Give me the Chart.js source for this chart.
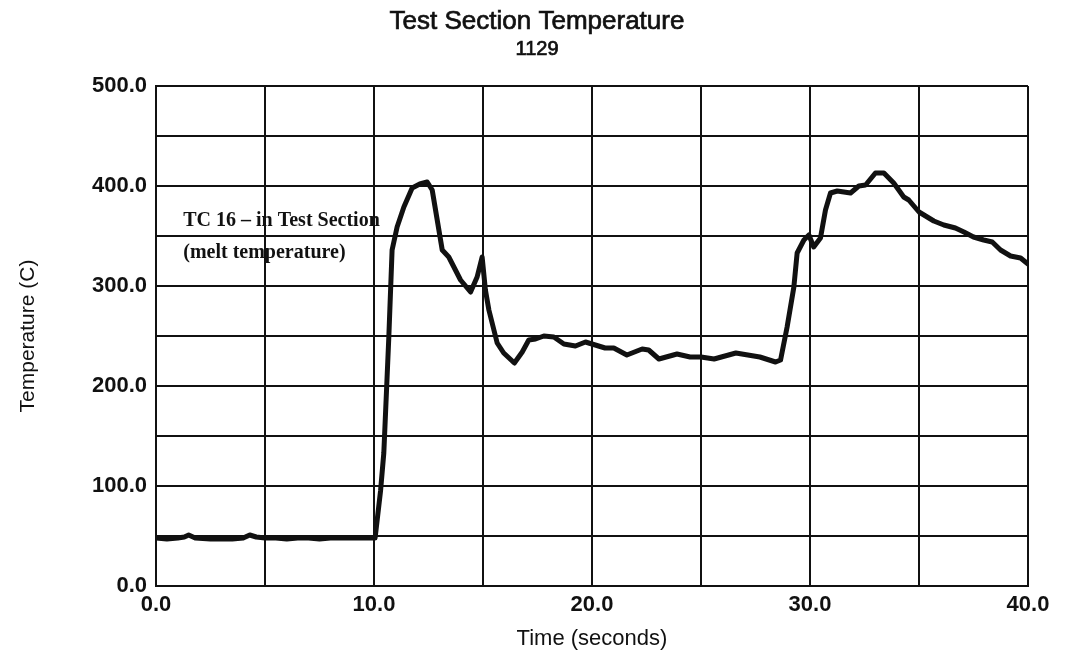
<!DOCTYPE html>
<html>
<head>
<meta charset="utf-8">
<title>Test Section Temperature</title>
<script src="https://cdn.jsdelivr.net/npm/chart.js@4/dist/chart.umd.min.js"></script>
<style>
  html, body { margin: 0; padding: 0; background: #fff; }
  #wrap { width: 1074px; height: 655px; position: relative; }
</style>
</head>
<body>
<div id="wrap"><canvas id="tempChart"></canvas></div>
<script>
// TC 16 readings: time (s) and temperature (C)
const timeSec = [
  0, 0.5, 1, 1.3, 1.5, 1.8, 2.5, 3, 3.5, 4, 4.3, 4.6, 5, 5.5, 6, 6.5, 7, 7.5, 8, 8.5, 9, 9.5, 10.05,
  10.3, 10.45, 10.68, 10.83, 11.06, 11.37, 11.75, 12.1, 12.44, 12.67, 13.13, 13.43, 13.97, 14.43,
  14.73, 14.96, 15.11, 15.27, 15.65, 15.95, 16.44, 16.8, 17.1, 17.41, 17.79, 18.25, 18.71, 19.24,
  19.7, 20.0, 20.6, 21.0, 21.6, 22.3, 22.6, 23.07, 23.9, 24.5, 25.0, 25.6, 26.6, 27.7, 28.42,
  28.65, 28.95, 29.26, 29.41, 29.72, 29.95, 30.17, 30.48, 30.71, 30.94, 31.25, 31.86, 32.24,
  32.55, 33.0, 33.39, 33.84, 34.3, 34.53, 35.0, 35.68, 36.14, 36.67, 37.06, 37.5, 37.97, 38.36,
  38.74, 39.2, 39.66, 40
];
const tempC = [
  48, 47, 48, 49, 51, 48, 47, 47, 47, 48, 51, 49, 48, 48, 47, 48, 48, 47, 48, 48, 48, 48, 48,
  95, 133, 249, 336, 359, 379, 398, 402, 404, 396, 336, 329, 306, 294,
  309, 329, 296, 276, 243, 233, 223, 234, 246, 247, 250, 249, 242, 240,
  244, 242, 238, 238, 231, 237, 236, 227, 232, 229, 229, 227, 233, 229, 224,
  226, 259, 299, 333, 346, 351, 339, 348, 376, 393, 395, 393, 400,
  401, 413, 413, 403, 389, 386, 374, 365, 361, 358, 354, 349, 346, 344,
  336, 330, 328, 322
];

const xTicks = [0, 10, 20, 30, 40];
const yTicks = [0, 100, 200, 300, 400, 500];
const chartTitle = 'Test Section Temperature';
const runId = '1129';
const noteLines = ['TC 16 \u2013 in Test Section', '(melt temperature)'];

const INK = '#111';
const SANS = '"Liberation Sans", Arial, Helvetica, sans-serif';
const SERIF = '"Liberation Serif", "Times New Roman", serif';

// heading is centred on the whole canvas, not on the plot
const headingPlugin = {
  id: 'heading',
  afterDraw(chart) {
    const { ctx, width } = chart;
    ctx.save();
    ctx.fillStyle = INK;
    ctx.strokeStyle = INK;
    ctx.lineWidth = 0.7;
    ctx.textAlign = 'center';
    ctx.textBaseline = 'middle';
    ctx.font = '26px ' + SANS;
    ctx.fillText(chartTitle, width / 2, 22);
    ctx.strokeText(chartTitle, width / 2, 22);
    ctx.font = '20px ' + SANS;
    ctx.fillText(runId, width / 2, 49);
    ctx.strokeText(runId, width / 2, 49);
    ctx.restore();
  }
};

// label sitting inside the plot, under the grid
const notePlugin = {
  id: 'note',
  beforeDraw(chart) {
    const { ctx, scales } = chart;
    const x = scales.x.getPixelForValue(1.25);
    const y1 = scales.y.getPixelForValue(360);
    const y2 = scales.y.getPixelForValue(328);
    ctx.save();
    ctx.fillStyle = INK;
    ctx.font = 'bold 20px ' + SERIF;
    ctx.textBaseline = 'alphabetic';
    ctx.fillText(noteLines[0], x, y1);
    ctx.fillText(noteLines[1], x, y2);
    ctx.restore();
  }
};

const ctx = document.getElementById('tempChart');
new Chart(ctx, {
  type: 'scatter',
  data: {
    datasets: [{
      data: timeSec.map((t, i) => ({ x: t, y: tempC[i] })),
      showLine: true,
      borderColor: INK,
      borderWidth: 5,
      pointRadius: 0,
      tension: 0,
      borderJoinStyle: 'round',
      borderCapStyle: 'round'
    }]
  },
  options: {
    responsive: true,
    maintainAspectRatio: false,
    animation: false,
    layout: { padding: { top: 86, right: 46, bottom: 0, left: 0 } },
    plugins: {
      legend: { display: false },
      tooltip: { enabled: false },
      title: { display: false },
      subtitle: { display: false }
    },
    scales: {
      x: {
        type: 'linear',
        min: 0,
        max: 40,
        afterFit(scale) { scale.height = 69; },
        grid: { color: INK, lineWidth: 2, drawTicks: false },
        border: { color: INK, width: 2 },
        ticks: {
          stepSize: 5,
          padding: 6,
          color: INK,
          font: { family: SANS, size: 22, weight: 'bold' },
          callback: v => xTicks.includes(v) ? v.toFixed(1) : ''
        },
        title: {
          display: true,
          text: 'Time (seconds)',
          color: INK,
          font: { family: SANS, size: 22 },
          padding: { top: 0, bottom: 3 }
        }
      },
      y: {
        min: 0,
        max: 500,
        afterFit(scale) { scale.width = 156; },
        grid: { color: INK, lineWidth: 2, drawTicks: false },
        border: { color: INK, width: 2 },
        ticks: {
          stepSize: 50,
          padding: 9,
          color: INK,
          font: { family: SANS, size: 22, weight: 'bold' },
          callback: v => yTicks.includes(v) ? v.toFixed(1) : ''
        },
        title: {
          display: true,
          text: 'Temperature (C)',
          color: INK,
          font: { family: SANS, size: 21 },
          padding: { top: 16, bottom: 0 }
        }
      }
    }
  },
  plugins: [notePlugin, headingPlugin]
});
</script>
</body>
</html>
